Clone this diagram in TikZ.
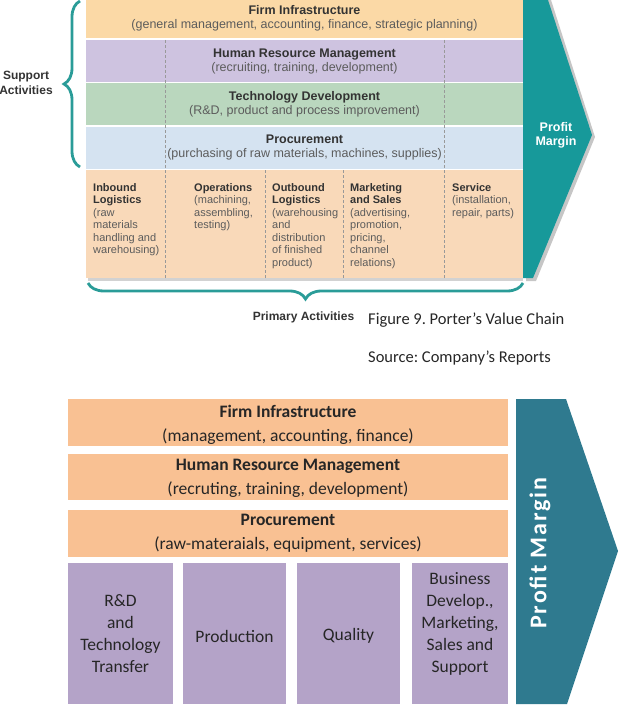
\documentclass[tikz,border=0pt]{standalone}
\usepackage{fontspec}
\setmainfont{Liberation Sans}
\newfontfamily\calfont{Carlito}
\usetikzlibrary{decorations.pathreplacing}
\definecolor{fic}{HTML}{FBD9A6}
\definecolor{hrmc}{HTML}{CEC3E0}
\definecolor{techc}{HTML}{BAD7BE}
\definecolor{procc}{HTML}{D5E3F1}
\definecolor{primc}{HTML}{F9D9B9}
\definecolor{tealc}{HTML}{17999A}
\definecolor{bracec}{HTML}{2A9C98}
\definecolor{titlec}{HTML}{333333}
\definecolor{subc}{HTML}{5C5C5C}
\definecolor{orangec}{HTML}{F9C193}
\definecolor{purplec}{HTML}{B4A3C8}
\definecolor{steelc}{HTML}{2F7A8F}
\definecolor{darkc}{HTML}{262626}
\begin{document}
\begin{tikzpicture}[x=1pt,y=-1pt,
  rowtxt/.style={align=center, inner sep=0pt, text=subc, font=\fontsize{12.5}{14}\selectfont},
  coltxt/.style={align=left, inner sep=0pt, anchor=north west, text=subc, font=\fontsize{11}{12.5}\selectfont},
  sep/.style={draw=gray!80, line width=0.6pt, dash pattern=on 3pt off 2pt},
  bracestyle/.style={draw=bracec, line width=2.8pt, decorate, decoration={brace, amplitude=16pt}},
  bartxt/.style={align=center, inner sep=0pt, text=darkc, font=\calfont\fontsize{17.5}{24}\selectfont},
  boxtxt/.style={align=center, inner sep=0pt, text=darkc, font=\calfont\fontsize{17.5}{22}\selectfont},
  captxt/.style={anchor=west, inner sep=0pt, text=black!85, font=\calfont\fontsize{16.5}{18}\selectfont}]
\useasboundingbox (0,0) rectangle (628,706);
% ---------- top diagram ----------
\fill[gray!45] (526,0) -- (551,0) -- (595,137) -- (536,281) -- (526,281) -- cycle;
\fill[gray!35] (88,278) rectangle (523,281);
\fill[fic] (86,0) rectangle (523,38.5);
\fill[hrmc] (86,40) rectangle (523,82);
\fill[techc] (86,83.5) rectangle (523,125);
\fill[procc] (86,126.5) rectangle (523,168.5);
\fill[primc] (86,170) rectangle (523,278);
\fill[tealc] (523,0) -- (548,0) -- (592,135) -- (533,278) -- (523,278) -- cycle;
\draw[sep] (165,40) -- (165,278);
\draw[sep] (444,40) -- (444,278);
\draw[sep] (265,170) -- (265,278);
\draw[sep] (343,170) -- (343,278);
\node[rowtxt] (fi) at (304.5,18.5) {\textcolor{titlec}{\textbf{Firm Infrastructure}}\\(general management, accounting, finance, strategic planning)};
\node[rowtxt] (hrm) at (304.5,61.5) {\textcolor{titlec}{\textbf{Human Resource Management}}\\(recruiting, training, development)};
\node[rowtxt] (tech) at (304.5,104.5) {\textcolor{titlec}{\textbf{Technology Development}}\\(R\&D, product and process improvement)};
\node[rowtxt] (proc) at (304.5,147.5) {\textcolor{titlec}{\textbf{Procurement}}\\(purchasing of raw materials, machines, supplies)};
\node[coltxt] (inb) at (93,183) {\textcolor{titlec}{\textbf{Inbound}}\\\textcolor{titlec}{\textbf{Logistics}}\\(raw\\materials\\handling and\\warehousing)};
\node[coltxt] (ops) at (194,183) {\textcolor{titlec}{\textbf{Operations}}\\(machining,\\assembling,\\testing)};
\node[coltxt] (outb) at (272,183) {\textcolor{titlec}{\textbf{Outbound}}\\\textcolor{titlec}{\textbf{Logistics}}\\(warehousing\\and\\distribution\\of finished\\product)};
\node[coltxt] (mkt) at (350,183) {\textcolor{titlec}{\textbf{Marketing}}\\\textcolor{titlec}{\textbf{and Sales}}\\(advertising,\\promotion,\\pricing,\\channel\\relations)};
\node[coltxt] (svc) at (452,183) {\textcolor{titlec}{\textbf{Service}}\\(installation,\\repair, parts)};
\node[align=center, inner sep=0pt, text=white, font=\fontsize{12.5}{14}\selectfont\bfseries] (pm1) at (556,135) {Profit\\Margin};
\draw[bracestyle] (80,167) -- (80,1);
\node[align=center, inner sep=0pt, text=titlec, font=\fontsize{12}{14.5}\selectfont\bfseries] (sup) at (26,83) {Support\\Activities};
\draw[bracestyle] (523,283) -- (88,283);
\node[inner sep=0pt, text=titlec, font=\fontsize{12}{14}\selectfont\bfseries] (pri) at (303.5,317) {Primary Activities};
\node[captxt] (cap1) at (368,320) {Figure 9.\ Porter’s Value Chain};
\node[captxt] (cap2) at (368,358) {Source:\ Company’s Reports};
% ---------- bottom diagram ----------
\fill[orangec] (68,399) rectangle (508,446);
\fill[orangec] (68,454) rectangle (508,500);
\fill[orangec] (68,510) rectangle (508,557);
\fill[purplec] (68,563) rectangle (173,704);
\fill[purplec] (183,563) rectangle (286,704);
\fill[purplec] (297,563) rectangle (400,704);
\fill[purplec] (412,563) rectangle (508,704);
\fill[steelc] (516,399) -- (566,399) -- (618,551) -- (567,704) -- (516,704) -- cycle;
\node[bartxt] (bfi) at (288,424.5) {\textbf{Firm Infrastructure}\\(management, accounting, finance)};
\node[bartxt] (bhrm) at (288,478.5) {\textbf{Human Resource Management}\\(recruting, training, development)};
\node[bartxt] (bproc) at (288,533.5) {\textbf{Procurement}\\(raw-materaials, equipment, services)};
\node[boxtxt] (rd) at (120.5,633.5) {R\&D\\and\\Technology\\Transfer};
\node[boxtxt] (prod) at (234.5,636) {Production};
\node[boxtxt] (qual) at (348.5,636) {Quality};
\node[boxtxt] (bus) at (460,624) {Business\\Develop.,\\Marketing,\\Sales and\\Support};
\node[rotate=90, inner sep=0pt, text=white, font=\calfont\fontsize{24}{26}\selectfont\bfseries\addfontfeatures{LetterSpace=8}] (pm2) at (540,553) {Profit Margin};
\end{tikzpicture}
\end{document}
